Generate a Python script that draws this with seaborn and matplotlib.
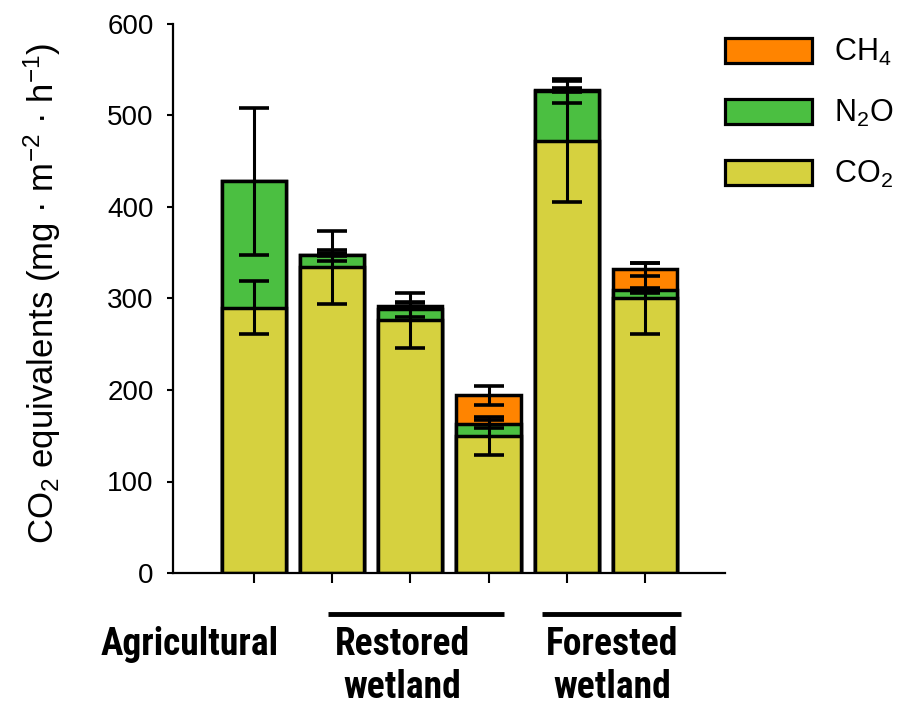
import matplotlib
matplotlib.use("Agg")
import matplotlib.pyplot as plt
from matplotlib import font_manager
from matplotlib.font_manager import FontProperties
from matplotlib.patches import Patch
from matplotlib.lines import Line2D
from matplotlib.transforms import blended_transform_factory
import numpy as np
import pandas as pd
import seaborn as sns

# Sites (one bar each) and per-gas CO2-equivalent fluxes
sites = ["Agricultural", "Restored 1", "Restored 2", "Restored 3",
         "Forested 1", "Forested 2"]
co2 = [290, 334, 276, 150, 472, 300]
n2o = [138, 13, 12, 13, 55, 9]
ch4 = [0, 1, 4, 31, 1, 23]
# error bars, drawn at the top of each stacked layer
co2_err = [29, 40, 30, 21, 66, 39]
n2o_err = [80, 6, 8, 4, 13, 3]
ch4_err = [0, 2, 3, 10, 2, 7]

gas_labels = ["CH$_4$", "N$_2$O", "CO$_2$"]
group_labels = [["Agricultural"], ["Restored", "wetland"], ["Forested", "wetland"]]

col_ch4 = "#FF8400"
col_n2o = "#4BBF41"
col_co2 = "#D6D13F"

sns.set_style("ticks")
plt.rcParams["font.family"] = ["Liberation Sans", "DejaVu Sans"]
plt.rcParams["mathtext.default"] = "regular"
for key in ("text.color", "axes.labelcolor", "xtick.color", "ytick.color",
            "axes.edgecolor"):
    plt.rcParams[key] = "black"


def condensed_bold():
    """Pick a bold condensed sans font file if one is installed."""
    prefs = ["Liberation Sans Narrow", "Roboto Condensed", "Open Sans Condensed",
             "Noto Sans", "Open Sans", "Roboto", "DejaVu Sans", "Liberation Sans"]
    cands = []
    for f in font_manager.fontManager.ttflist:
        narrowish = (f.stretch in ("condensed", "semi-condensed", "extra-condensed")
                     or "Narrow" in f.name or "Condensed" in f.name
                     or "ondensed" in f.fname or "Narrow" in f.fname)
        w = f.weight if isinstance(f.weight, int) else 700
        if narrowish and 600 <= w <= 800 and f.style == "normal":
            rank = prefs.index(f.name) if f.name in prefs else len(prefs)
            cands.append((rank, f.fname))
    if cands:
        cands.sort()
        return FontProperties(fname=cands[0][1]), True
    return FontProperties(family="Liberation Sans", weight="bold"), False


group_font, is_narrow = condensed_bold()
group_size = 27 if is_narrow else 23

df = pd.DataFrame({"site": sites, "co2": co2, "n2o": n2o, "ch4": ch4})
df["lvl_co2"] = df["co2"]
df["lvl_n2o"] = df["co2"] + df["n2o"]
df["lvl_ch4"] = df["lvl_n2o"] + df["ch4"]

fig = plt.figure(figsize=(9.06, 7.08), dpi=100)
ax = fig.add_axes([173 / 906, 1 - 573 / 708, 552 / 906, 549 / 708])

lw = 2.5
bar_kw = dict(order=sites, width=0.82, saturation=1, edgecolor="black",
              linewidth=lw, errorbar=None, ax=ax)
# stacked bars drawn as overlapping cumulative totals, tallest first
sns.barplot(data=df, x="site", y="lvl_ch4", color=col_ch4, **bar_kw)
sns.barplot(data=df, x="site", y="lvl_n2o", color=col_n2o, **bar_kw)
sns.barplot(data=df, x="site", y="lvl_co2", color=col_co2, **bar_kw)

xpos = np.arange(len(sites))
for col, err in [("lvl_co2", co2_err), ("lvl_n2o", n2o_err), ("lvl_ch4", ch4_err)]:
    err = np.asarray(err, dtype=float)
    keep = err > 0
    ax.errorbar(xpos[keep], df[col].values[keep], yerr=err[keep], fmt="none",
                ecolor="black", elinewidth=2.2, capsize=11, capthick=2.6, zorder=5)

ax.set_xlim(-1.03, 6.02)
ax.set_ylim(0, 600)
ax.set_yticks(np.arange(0, 601, 100))
ax.set_xticks(xpos)
ax.set_xticklabels([""] * len(sites))
ax.set_xlabel("")
sns.despine(ax=ax)
for s in ("left", "bottom"):
    ax.spines[s].set_linewidth(1.6)
ax.tick_params(axis="y", direction="out", length=4, width=1.5, pad=10, labelsize=20)
ax.tick_params(axis="x", direction="out", length=7, width=1.5)

ax.set_ylabel("CO$_2$ equivalents (mg · m$^{-2}$ · h$^{-1}$)", fontsize=25,
              va="center")
ax.yaxis.set_label_coords(-0.236, 0.51)

# group labels and brackets under the axis
trans = blended_transform_factory(ax.transData, fig.transFigure)
label_x = [-0.813, 1.895, 4.577]
baselines = [655, 698]
for x, lines in zip(label_x, group_labels):
    for line, yb in zip(lines, baselines):
        ax.text(x, 1 - yb / 708, line, transform=trans, ha="center", va="baseline",
                fontproperties=group_font, fontsize=group_size, fontweight="bold",
                clip_on=False)

for x0, x1 in [(0.95, 3.197), (3.683, 5.458)]:
    ax.add_line(Line2D([x0, x1], [1 - 614 / 708] * 2, transform=trans, color="black",
                       linewidth=3.5, solid_capstyle="butt", clip_on=False))

handles = [Patch(facecolor=c, edgecolor="black", linewidth=2.3)
           for c in (col_ch4, col_n2o, col_co2)]
ax.legend(handles, gas_labels, loc="upper left",
          bbox_to_anchor=(725 / 906, 1 - 37 / 708), bbox_transform=fig.transFigure,
          frameon=False, fontsize=22, handlelength=2.84, handleheight=0.92,
          labelspacing=0.98, handletextpad=0.72, borderpad=0, borderaxespad=0)

fig.savefig("out.png", dpi=100)
